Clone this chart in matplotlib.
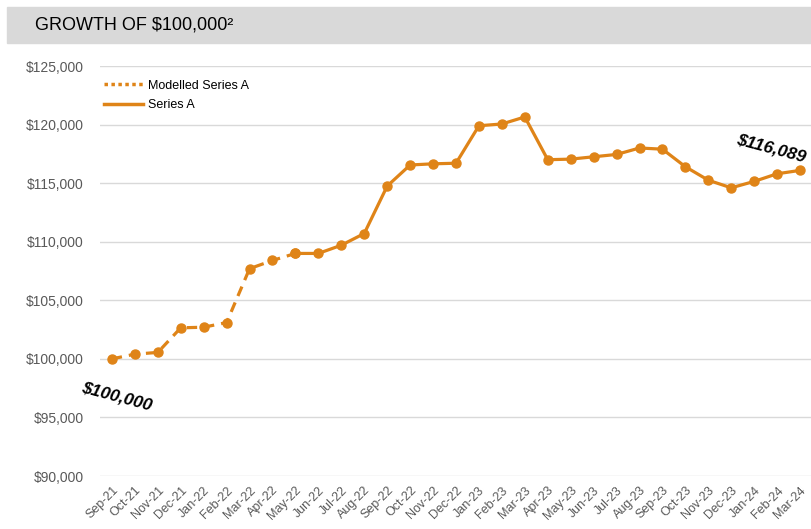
import matplotlib.pyplot as plt
from matplotlib.lines import Line2D
from matplotlib.patches import Rectangle
import numpy as np

plt.rcParams["font.family"] = ["Liberation Sans", "DejaVu Sans"]

months = ["Sep-21", "Oct-21", "Nov-21", "Dec-21", "Jan-22", "Feb-22", "Mar-22", "Apr-22",
          "May-22", "Jun-22", "Jul-22", "Aug-22", "Sep-22", "Oct-22", "Nov-22", "Dec-22",
          "Jan-23", "Feb-23", "Mar-23", "Apr-23", "May-23", "Jun-23", "Jul-23", "Aug-23",
          "Sep-23", "Oct-23", "Nov-23", "Dec-23", "Jan-24", "Feb-24", "Mar-24"]
modelled = [100000, 100400, 100550, 102650, 102700, 103100, 107700, 108400, 109000]
series_a = [109000, 109000, 109700, 110700, 114750, 116550, 116650, 116700,
            119900, 120050, 120650, 117000, 117050, 117250, 117450, 118000,
            117900, 116400, 115250, 114600, 115150, 115800, 116089]
start_label = "$100,000"
end_label = "$116,089"

orange = "#DF8418"
grey_txt = "#595959"

fig = plt.figure(figsize=(8.12, 5.29), dpi=100)
fig.patches.append(Rectangle((7 / 812, 1 - 43 / 529), 805 / 812, 36 / 529,
                             transform=fig.transFigure, color="#D9D9D9", zorder=0))
fig.text(35 / 812, 1 - 25 / 529, "GROWTH OF $100,000²", fontsize=13, va="center",
         ha="left", color="black")

ax = fig.add_axes([100 / 812, 53 / 529, 712 / 812, 410 / 529])
x = np.arange(len(months))
xm = x[:len(modelled)]
xs = x[len(modelled) - 1:]

ax.plot(xm, modelled, color=orange, lw=2.3, ls=(0, (3.2, 2.2)), marker="o", ms=6.5,
        dash_capstyle="butt", zorder=3)
ax.plot(xs, series_a, color=orange, lw=2.3, marker="o", ms=6.5, zorder=3)

ax.set_xlim(-0.52, len(months) - 0.48)
ax.set_ylim(90000, 125000)
ax.set_yticks(np.arange(90000, 125001, 5000))
ax.set_yticklabels([f"${v:,.0f}" for v in np.arange(90000, 125001, 5000)],
                   fontsize=10, color=grey_txt)
ax.set_xticks(x)
ax.set_xticklabels(months, rotation=45, ha="right", rotation_mode="anchor",
                   fontsize=9, color=grey_txt)
ax.tick_params(length=0, pad=6)
ax.tick_params(axis="y", pad=11.5)
ax.grid(axis="y", color="#D9D9D9", lw=1)
ax.set_axisbelow(True)
for s in ax.spines.values():
    s.set_visible(False)

ax.text(x[0] + 0.2, 96750, start_label, rotation=-15, fontsize=12.5, fontweight="bold",
        fontstyle="italic", ha="center", va="center")
ax.text(x[-1] - 1.25, 118000, end_label, rotation=-15, fontsize=12.5, fontweight="bold",
        fontstyle="italic", ha="center", va="center")

handles = [Line2D([], [], color=orange, lw=2.5, ls=(0, (1, 1))),
           Line2D([], [], color=orange, lw=2.5)]
ax.legend(handles, ["Modelled Series A", "Series A"], loc="upper left",
          bbox_to_anchor=(-0.005, 0.985), frameon=False, fontsize=9,
          handlelength=3.1, handletextpad=0.4, labelspacing=0.6,
          borderaxespad=0.2)

fig.savefig("out.png", dpi=100)
